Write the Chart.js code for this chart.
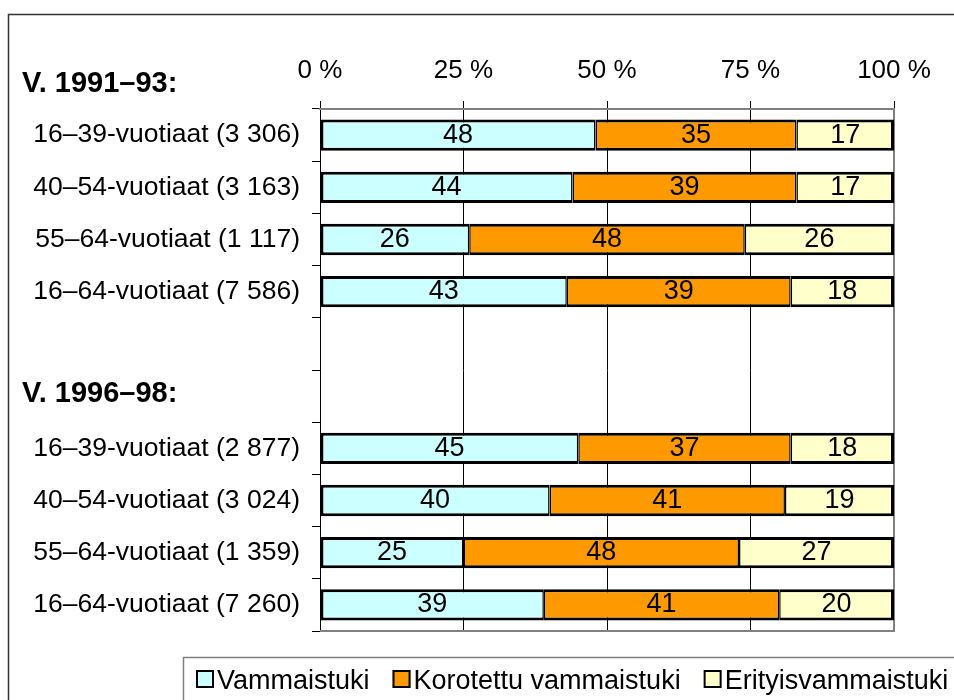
<!DOCTYPE html>
<html><head><meta charset="utf-8">
<script src="https://cdn.jsdelivr.net/npm/chart.js@4.4.0/dist/chart.umd.min.js"></script>
<style>html,body{margin:0;padding:0;background:#fff;}#wrap{width:954px;height:700px;position:relative;}</style>
</head><body><div id="wrap"><canvas id="c" width="954" height="700"></canvas></div>
<script>
const categories = [
  '16–39-vuotiaat (3 306)', '40–54-vuotiaat (3 163)', '55–64-vuotiaat (1 117)', '16–64-vuotiaat (7 586)',
  '', '',
  '16–39-vuotiaat (2 877)', '40–54-vuotiaat (3 024)', '55–64-vuotiaat (1 359)', '16–64-vuotiaat (7 260)'
];
const groupHeadings = ['V. 1991–93:', 'V. 1996–98:'];
const headingRows = [-1, 5];
const seriesNames = ['Vammaistuki', 'Korotettu vammaistuki', 'Erityisvammaistuki'];
const vammaistuki = [48, 44, 26, 43, null, null, 45, 40, 25, 39];
const korotettu   = [35, 39, 48, 39, null, null, 37, 41, 48, 41];
const erityis     = [17, 17, 26, 18, null, null, 18, 19, 27, 20];
const xTicks = [0, 25, 50, 75, 100];
const colors = ['#CCFFFF', '#FF9900', '#FFFFCC'];

const FONT = "'Liberation Sans', Arial, sans-serif";

const decor = {
  id: 'decor',
  beforeDatasetsDraw(chart) {
    const {ctx, chartArea: a} = chart;
    ctx.save();
    ctx.strokeStyle = '#808080';
    ctx.lineWidth = 2;
    ctx.beginPath();
    ctx.moveTo(a.left, a.top);
    ctx.lineTo(a.right, a.top);
    ctx.lineTo(a.right, a.bottom);
    ctx.lineTo(a.left, a.bottom);
    ctx.stroke();
    ctx.restore();
  },
  afterDatasetsDraw(chart) {
    const {ctx} = chart;
    ctx.save();
    ctx.font = '27px ' + FONT;
    ctx.fillStyle = '#000';
    ctx.textAlign = 'center';
    ctx.textBaseline = 'middle';
    chart.data.datasets.forEach((ds, di) => {
      const meta = chart.getDatasetMeta(di);
      meta.data.forEach((el, i) => {
        const v = ds.data[i];
        if (v === null || v === undefined) return;
        const p = el.getCenterPoint();
        ctx.fillText(String(v), p.x, p.y);
      });
    });
    ctx.restore();
  },
  afterDraw(chart) {
    const {ctx} = chart;
    const ys = chart.scales.y;
    ctx.save();
    // group headings
    ctx.font = 'bold 29px ' + FONT;
    ctx.fillStyle = '#000';
    ctx.textAlign = 'left';
    ctx.textBaseline = 'alphabetic';
    const step = ys.getPixelForValue(1) - ys.getPixelForValue(0);
    groupHeadings.forEach((h, k) => {
      const r = headingRows[k];
      const y = ys.getPixelForValue(0) + r * step;
      ctx.fillText(h, 22, y + (k === 0 ? 9 : 6));
    });
    // legend
    ctx.font = '27px ' + FONT;
    ctx.textBaseline = 'alphabetic';
    let x = 196;
    chart.data.datasets.forEach((ds) => {
      ctx.fillStyle = ds.backgroundColor;
      ctx.fillRect(x, 670, 18, 18);
      ctx.strokeStyle = '#000';
      ctx.lineWidth = 2;
      ctx.strokeRect(x + 1, 671, 16, 16);
      ctx.fillStyle = '#000';
      ctx.fillText(ds.label, x + 21, 689);
      x += 21 + ctx.measureText(ds.label).width + 23;
    });
    // legend box
    ctx.strokeStyle = '#808080';
    ctx.lineWidth = 1.5;
    ctx.strokeRect(183.5, 657.5, 900, 100);
    // outer border
    ctx.strokeStyle = '#333';
    ctx.lineWidth = 1.5;
    ctx.strokeRect(8.5, 14.5, 1100, 800);
    ctx.restore();
  }
};

const bw = [
  {top: 3, bottom: 3, left: 3, right: 1.5},
  {top: 3, bottom: 3, left: 1.5, right: 1.5},
  {top: 3, bottom: 3, left: 1.5, right: 3}
];
const seriesData = [vammaistuki, korotettu, erityis];

new Chart(document.getElementById('c'), {
  type: 'bar',
  data: {
    labels: categories,
    datasets: seriesNames.map((name, i) => ({
      label: name,
      data: seriesData[i],
      backgroundColor: colors[i],
      borderColor: '#000',
      borderWidth: bw[i],
      borderSkipped: false,
      inflateAmount: 0,
      barPercentage: 0.6,
      categoryPercentage: 1.0
    }))
  },
  options: {
    indexAxis: 'y',
    responsive: false,
    animation: false,
    devicePixelRatio: 1,
    layout: {padding: {left: 0, right: 60, top: 0, bottom: 69}},
    plugins: {legend: {display: false}, tooltip: {enabled: false}},
    scales: {
      x: {
        position: 'top',
        stacked: true,
        min: 0, max: 100,
        afterBuildTicks: (s) => { s.ticks = xTicks.map(v => ({value: v})); },
        ticks: {
          callback: (v) => v + ' %',
          font: {family: FONT, size: 26},
          color: '#000',
          padding: 15,
          maxRotation: 0
        },
        grid: {color: '#000', lineWidth: 1, tickLength: 8, drawOnChartArea: true},
        border: {display: true, color: '#808080', width: 2},
        afterFit: (s) => { s.height = 109; }
      },
      y: {
        stacked: true,
        ticks: {font: {family: FONT, size: 26.5}, color: '#000', padding: 12, autoSkip: false},
        grid: {drawOnChartArea: false, color: '#000', lineWidth: 1, tickLength: 8, offset: true},
        border: {display: true, color: '#000', width: 1},
        afterFit: (s) => { s.width = 320; }
      }
    }
  },
  plugins: [decor]
});
</script>
</body></html>
